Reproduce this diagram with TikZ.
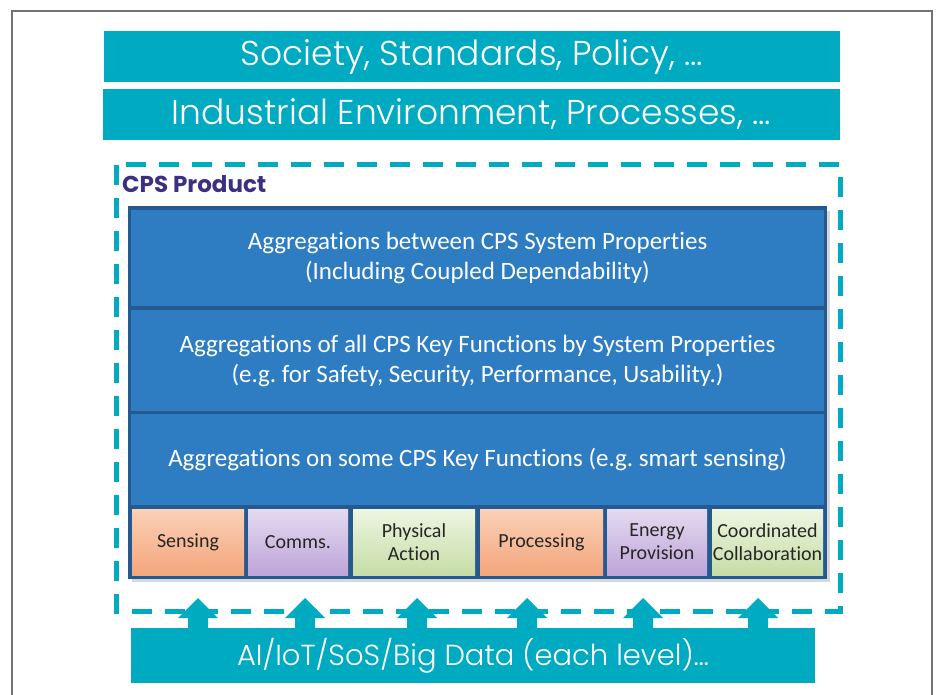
\documentclass[tikz,border=0pt]{standalone}
\usepackage{fontspec}
\setmainfont{Carlito}[Ligatures=NoCommon]
\newfontfamily\gothic{Poppins Light}
\newfontfamily\gothicb{Poppins}
\usetikzlibrary{positioning}
\frenchspacing
\definecolor{teal}{RGB}{0,170,192}
\definecolor{band}{RGB}{46,125,195}
\definecolor{bandline}{RGB}{37,90,145}
\definecolor{cpsviolet}{RGB}{60,48,128}
\definecolor{peachtop}{RGB}{250,208,183}
\definecolor{peachbot}{RGB}{244,166,124}
\definecolor{lilactop}{RGB}{229,218,240}
\definecolor{lilacbot}{RGB}{190,164,216}
\definecolor{greentop}{RGB}{238,245,226}
\definecolor{greenbot}{RGB}{198,221,166}
\tikzset{
  tealbar/.style={fill=teal, inner sep=0pt, text=white,
    font=\gothic\fontsize{34.5}{38}\selectfont},
  bandbox/.style={fill=band, inner sep=0pt, text=white, align=center,
    font=\fontsize{25}{30}\selectfont},
  keybox/.style={inner sep=0pt, align=center, text=black!85,
    minimum height=66pt, font=\fontsize{20}{23}\selectfont},
  peach/.style={keybox, top color=peachtop, bottom color=peachbot},
  lilac/.style={keybox, top color=lilactop, bottom color=lilacbot},
  leaf/.style={keybox, top color=greentop, bottom color=greenbot},
}
\begin{document}
\begin{tikzpicture}[x=1pt, y=-1pt]
    \useasboundingbox (0,0) rectangle (938,695);
    % frame
    \draw[black!55, line width=1.2pt] (12,695) -- (12,11) -- (932,11) -- (932,695);
    % context layers
    \node[tealbar, minimum width=736pt, minimum height=51pt] (soc) at (472,56.5) {Society, Standards, Policy, \dots};
    \node[tealbar, minimum width=737pt, minimum height=51pt] (ind) at (471.5,114.5) {Industrial Environment, Processes, \dots};
    % cps product boundary
    \draw[teal, line width=5pt, dash pattern=on 20pt off 13pt] (116,165) rectangle (840,611);
    \node[anchor=base west, inner sep=0pt, text=cpsviolet, font=\gothicb\bfseries\fontsize{23}{26}\selectfont] (cps) at (122,193) {CPS Product};
    % aggregation stack
    \fill[black!30, opacity=.5] (132,211) rectangle (830,582);
    \node[fill=bandline, minimum width=699pt, minimum height=373pt, inner sep=0pt] (stack) at (477.5,392.5) {};
    \node[bandbox, minimum width=693pt, minimum height=96pt] (agg1) at (477.5,258) {Aggregations between CPS System Properties\\(Including Coupled Dependability)};
    \node[bandbox, minimum width=693pt, minimum height=101pt] (agg2) at (477.5,360.5) {Aggregations of all CPS Key Functions by System Properties\\(e.g. for Safety, Security, Performance, Usability.)};
    \node[bandbox, minimum width=693pt, minimum height=91pt] (agg3) at (477.5,459.5) {Aggregations on some CPS Key Functions (e.g. smart sensing)};
    % key functions
    \node[peach, minimum width=112pt] (sens) at (188,542) {Sensing};
    \node[lilac, minimum width=100pt] (comm) at (298,542) {Comms.};
    \node[leaf, minimum width=122pt] (phys) at (414,542) {Physical\\Action};
    \node[peach, minimum width=123pt] (proc) at (541.5,542) {Processing};
    \node[lilac, minimum width=100pt] (ener) at (657,542) {Energy\\Provision};
    \node[leaf, minimum width=111pt] (coll) at (767.5,542) {Coordinated\\Collaboration};
    % enablers
    \node[tealbar, minimum width=684pt, minimum height=55pt, font=\gothic\fontsize{29}{32}\selectfont] (tech) at (473,655.5) {AI/IoT/SoS/Big Data (each level)\dots};
    \foreach \ax in {198,305,417,527,643,758}
      \fill[teal] (\ax-10,629) -- (\ax-10,618) -- (\ax-20,618) -- (\ax,598)
                  -- (\ax+20,618) -- (\ax+10,618) -- (\ax+10,629) -- cycle;
  \end{tikzpicture}
\end{document}
